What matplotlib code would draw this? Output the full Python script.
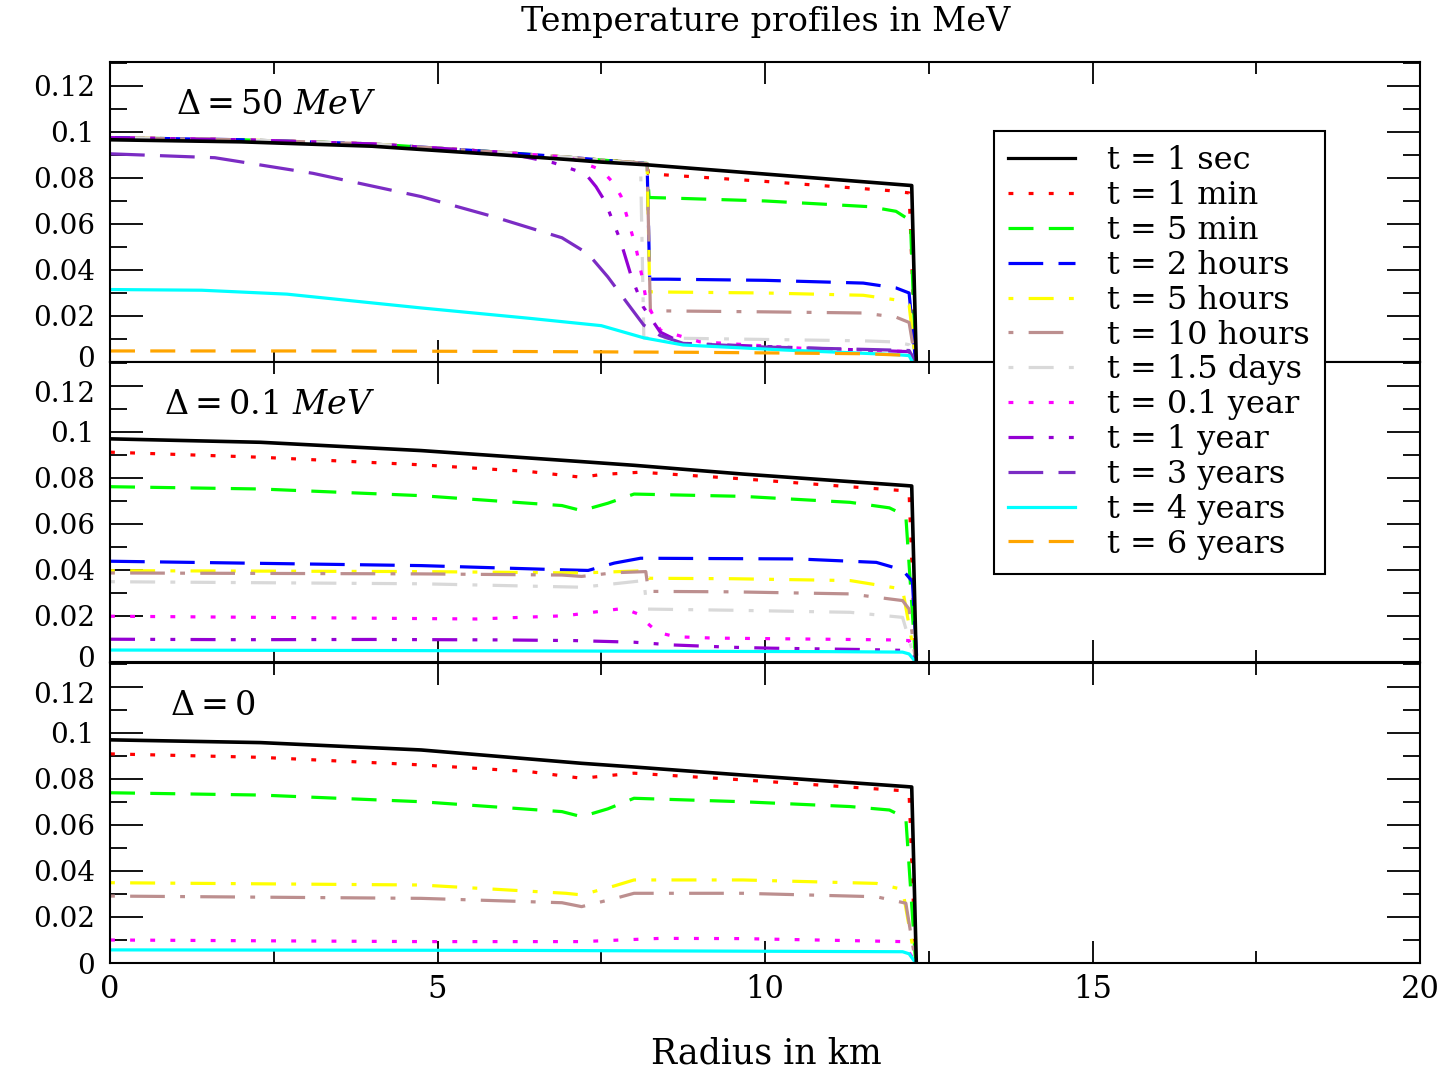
"""
Temperature profiles in MeV for three gap values (Delta = 50 MeV, 0.1 MeV, 0)
"""

import matplotlib.pyplot as plt
from matplotlib.lines import Line2D
from matplotlib.ticker import MultipleLocator
from matplotlib.transforms import ScaledTranslation

plt.rcParams['font.family'] = ['DejaVu Serif']
plt.rcParams['mathtext.fontset'] = 'dejavuserif'
plt.rcParams['lines.scale_dashes'] = False

# ---------------------------------------------------------
# SERIES LABELS / COLOURS / LINE STYLES
# ---------------------------------------------------------
labels = ['t = 1 sec', 't = 1 min', 't = 5 min', 't = 2 hours', 't = 5 hours',
          't = 10 hours', 't = 1.5 days', 't = 0.1 year', 't = 1 year',
          't = 3 years', 't = 4 years', 't = 6 years']
colors = ['black', 'red', '#00ff00', 'blue', '#ffff00', 'rosybrown',
          '#d9d9d9', 'magenta', 'darkviolet', '#7b2cc4', 'cyan', 'orange']
styles = ['-', (0, (3.5, 11)), (0, (18, 11)), (0, (25, 11)), (0, (3.5, 11, 18, 11)),
          (0, (3.5, 11, 25, 11)), (0, (3.5, 11, 18, 11)), (0, (3.5, 11)),
          (0, (18, 11, 3.5, 11, 3.5, 11)), (0, (25, 11)), '-', (0, (18, 11))]

xticks = [0, 5, 10, 15, 20]
yticks = [0, 0.02, 0.04, 0.06, 0.08, 0.10, 0.12]
ytick_labels = ['0', '0.02', '0.04', '0.06', '0.08', '0.1', '0.12']

# ---------------------------------------------------------
# DELTA = 50 MeV
# ---------------------------------------------------------
r50_core = [0, 2, 4, 6, 7, 7.5, 8.2]
T50_core = [0.0975, 0.0966, 0.0948, 0.0911, 0.0890, 0.0878, 0.0863]

r50_1sec = [0, 2, 4, 6, 7, 7.5, 8.2, 10, 12.24, 12.31]
T50_1sec = [0.0966, 0.0957, 0.0938, 0.0900, 0.0880, 0.0869, 0.0857, 0.0817, 0.0767, 0.0]
r50_1min = r50_core + [8.22, 10, 11.9, 12.2, 12.3]
T50_1min = T50_core + [0.0818, 0.0785, 0.0745, 0.0735, 0.0]
r50_5min = r50_core + [8.23, 8.5, 10, 11.6, 12.0, 12.22, 12.3]
T50_5min = T50_core + [0.0715, 0.0713, 0.0700, 0.0675, 0.0655, 0.0615, 0.0]
r50_2h = r50_core + [8.24, 8.5, 10, 11.5, 12.0, 12.2, 12.3]
T50_2h = T50_core + [0.0360, 0.0360, 0.0355, 0.0343, 0.0322, 0.0300, 0.0]
r50_5h = r50_core + [8.24, 8.5, 10, 11.5, 12.0, 12.2, 12.3]
T50_5h = T50_core + [0.0305, 0.0304, 0.0300, 0.0290, 0.0270, 0.0248, 0.0]
r50_10h = r50_core + [8.25, 8.5, 10, 11.5, 12.0, 12.2, 12.3]
T50_10h = T50_core + [0.0222, 0.0222, 0.0218, 0.0213, 0.0195, 0.0172, 0.0]
r50_15d = r50_core[:6] + [8.1, 8.15, 8.5, 10, 11.5, 12.0, 12.2, 12.3]
T50_15d = T50_core[:6] + [0.0860, 0.0105, 0.0104, 0.0098, 0.0092, 0.0087, 0.0075, 0.0]
r50_01y = r50_core[:5] + [7.5, 7.68, 7.8, 7.92, 8.03, 8.12, 8.19, 8.4, 9.0, 10.6, 11.55, 12.2, 12.3]
T50_01y = T50_core[:5] + [0.0835, 0.0780, 0.0722, 0.0606, 0.0496, 0.0375, 0.0262, 0.0139,
                          0.0088, 0.0059, 0.0052, 0.0045, 0.0]
r50_1y = r50_core[:4] + [6.77, 7.26, 7.42, 7.56, 7.79, 7.96, 8.14, 8.4, 8.75, 10.8, 11.8, 12.2, 12.3]
T50_1y = T50_core[:4] + [0.0866, 0.0818, 0.0762, 0.0697, 0.0530, 0.0371, 0.0240, 0.0130,
                         0.0081, 0.0059, 0.0049, 0.0045, 0.0]
r50_3y = [0, 1.6, 3.1, 4.75, 5.85, 6.9, 7.3, 7.6, 7.9, 8.15, 8.4, 8.75, 10, 11.5, 12.2, 12.3]
T50_3y = [0.0905, 0.0888, 0.0820, 0.0719, 0.0632, 0.0540, 0.0470, 0.0370, 0.0255, 0.0160,
          0.0115, 0.0081, 0.0065, 0.0055, 0.0050, 0.0]
r50_4y = [0, 1.4, 2.7, 4.75, 6.4, 7.5, 8.15, 8.75, 10.3, 12.0, 12.2, 12.25]
T50_4y = [0.0315, 0.0312, 0.0295, 0.0235, 0.0190, 0.0158, 0.0105, 0.0074, 0.0052, 0.0032, 0.0028, 0.0]
r50_6y = [0, 3, 6, 9, 11.5, 12.1, 12.3]
T50_6y = [0.0048, 0.0048, 0.0046, 0.0042, 0.0036, 0.0030, 0.0]

# ---------------------------------------------------------
# DELTA = 0.1 MeV (middle panel)
# ---------------------------------------------------------
r01_1sec = [0, 2.3, 4.75, 7.2, 8.0, 9.66, 12.15, 12.24, 12.31]
T01_1sec = [0.0970, 0.0955, 0.0919, 0.0871, 0.0855, 0.0817, 0.0767, 0.0765, 0.0]
r01_1min = [0, 2.3, 4.75, 6.4, 7.2, 7.5, 8.1, 9.66, 12.1, 12.2, 12.3]
T01_1min = [0.0912, 0.0890, 0.0857, 0.0828, 0.0803, 0.0815, 0.0825, 0.0796, 0.0745, 0.0735, 0.0]
r01_5min = [0, 2.3, 4.75, 6.9, 7.2, 7.6, 8.0, 9.66, 11.3, 11.9, 12.15, 12.3]
T01_5min = [0.0762, 0.0752, 0.0723, 0.0680, 0.0658, 0.0690, 0.0730, 0.0720, 0.0694, 0.0670, 0.0635, 0.0]
r01_2h = [0, 4.75, 7.0, 7.3, 7.7, 8.1, 10.5, 11.7, 12.1, 12.25, 12.32]
T01_2h = [0.0438, 0.0419, 0.0400, 0.0398, 0.0430, 0.0451, 0.0448, 0.0433, 0.0400, 0.0350, 0.0]
r01_5h = [0, 4.75, 7.2, 8.18, 8.22, 9.5, 11.3, 12.1, 12.3]
T01_5h = [0.0397, 0.0393, 0.0387, 0.0397, 0.0364, 0.0362, 0.0354, 0.0317, 0.0]
r01_10h = [0, 4.75, 6.9, 7.2, 7.7, 8.18, 8.22, 9.5, 11.3, 12.1, 12.2, 12.3]
T01_10h = [0.0387, 0.0383, 0.0378, 0.0372, 0.0388, 0.0393, 0.0307, 0.0305, 0.0296, 0.0267, 0.0230, 0.0]
r01_15d = [0, 4.75, 7.2, 7.7, 8.15, 8.2, 9.5, 11.3, 12.1, 12.3]
T01_15d = [0.0349, 0.0340, 0.0325, 0.0340, 0.0354, 0.0230, 0.0225, 0.0216, 0.0194, 0.0]
r01_01y = [0, 5.6, 6.95, 7.84, 8.06, 8.2, 8.36, 8.63, 9.2, 11.96, 12.2, 12.3]
T01_01y = [0.0199, 0.0187, 0.0201, 0.0233, 0.0209, 0.0170, 0.0129, 0.0110, 0.0104, 0.0096, 0.0093, 0.0]
r01_1y = [0, 2, 4, 6, 7.1, 8.0, 8.6, 9.5, 10.1, 11.55, 12.2, 12.3]
T01_1y = [0.0099, 0.0097, 0.0098, 0.0096, 0.0093, 0.0086, 0.0074, 0.0064, 0.0060, 0.0054, 0.0050, 0.0]
r01_4y = [0, 4, 8, 11, 12.1, 12.2, 12.3]
T01_4y = [0.0052, 0.0050, 0.0047, 0.0045, 0.0043, 0.0035, 0.0]

# ---------------------------------------------------------
# DELTA = 0 (bottom panel)
# ---------------------------------------------------------
r0_1sec = [0, 2.3, 4.75, 7.2, 8.0, 9.66, 12.15, 12.24, 12.31]
T0_1sec = [0.0970, 0.0958, 0.0926, 0.0868, 0.0852, 0.0817, 0.0767, 0.0765, 0.0]
r0_1min = [0, 2.3, 4.75, 6.4, 7.2, 7.7, 8.0, 9.66, 12.1, 12.2, 12.3]
T0_1min = [0.0909, 0.0894, 0.0861, 0.0832, 0.0803, 0.0817, 0.0825, 0.0796, 0.0749, 0.0735, 0.0]
r0_5min = [0, 2.3, 4.75, 6.9, 7.2, 7.6, 8.0, 9.66, 11.3, 11.9, 12.15, 12.3]
T0_5min = [0.0740, 0.0730, 0.0701, 0.0658, 0.0636, 0.0670, 0.0716, 0.0701, 0.0680, 0.0665, 0.0630, 0.0]
r0_5h = [0, 4.75, 6.96, 7.2, 7.7, 8.0, 9.66, 11.7, 12.1, 12.3]
T0_5h = [0.0349, 0.0339, 0.0303, 0.0296, 0.0335, 0.0361, 0.0361, 0.0346, 0.0320, 0.0]
r0_10h = [0, 4.75, 6.9, 7.2, 7.7, 8.0, 9.66, 11.7, 12.15, 12.3]
T0_10h = [0.0291, 0.0281, 0.0262, 0.0245, 0.0280, 0.0303, 0.0303, 0.0288, 0.0260, 0.0]
r0_01y = [0, 4.75, 7.2, 8.4, 9.66, 12.1, 12.3]
T0_01y = [0.0100, 0.0093, 0.0093, 0.0107, 0.0106, 0.0093, 0.0]
r0_4y = [0, 6, 12.1, 12.2, 12.3]
T0_4y = [0.0057, 0.0055, 0.0049, 0.0040, 0.0]

# (series index, r, T) for each panel
panel_50 = [(0, r50_1sec, T50_1sec), (1, r50_1min, T50_1min), (2, r50_5min, T50_5min),
            (3, r50_2h, T50_2h), (4, r50_5h, T50_5h), (5, r50_10h, T50_10h),
            (6, r50_15d, T50_15d), (7, r50_01y, T50_01y), (8, r50_1y, T50_1y),
            (9, r50_3y, T50_3y), (10, r50_4y, T50_4y), (11, r50_6y, T50_6y)]
panel_01 = [(0, r01_1sec, T01_1sec), (1, r01_1min, T01_1min), (2, r01_5min, T01_5min),
            (3, r01_2h, T01_2h), (4, r01_5h, T01_5h), (5, r01_10h, T01_10h),
            (6, r01_15d, T01_15d), (7, r01_01y, T01_01y), (8, r01_1y, T01_1y),
            (10, r01_4y, T01_4y)]
panel_0 = [(0, r0_1sec, T0_1sec), (1, r0_1min, T0_1min), (2, r0_5min, T0_5min),
           (4, r0_5h, T0_5h), (5, r0_10h, T0_10h), (7, r0_01y, T0_01y),
           (10, r0_4y, T0_4y)]

panels = [(panel_50, r'$\Delta = 50\ MeV$', 1.0), (panel_01, r'$\Delta = 0.1\ MeV$', 0.82),
          (panel_0, r'$\Delta = 0$', 0.92)]

# ---------------------------------------------------------
# FIGURE
# ---------------------------------------------------------
W, H = 1452, 1069
fig = plt.figure(figsize=(W / 100, H / 100), dpi=100)
left, right = 110 / W, 1420 / W
tops = [62, 362, 663]
ph = 300 / H

for i, (series, note, note_x) in enumerate(panels):
    ax = fig.add_axes([left, 1 - (tops[i] + 300) / H, right - left, ph])
    for idx, r, T in series:
        lw = 2.6 if idx == 0 else 2.3
        ax.plot(r, T, color=colors[idx], linestyle=styles[idx], lw=lw,
                zorder=3 if idx == 0 else 2)
    ax.set_xlim(0, 20)
    ax.set_ylim(0, 0.1304)
    ax.set_yticks(yticks)
    ax.set_yticklabels(ytick_labels)
    ax.yaxis.set_minor_locator(MultipleLocator(0.01))
    ax.set_xticks(xticks)
    ax.xaxis.set_minor_locator(MultipleLocator(2.5))
    ax.tick_params(axis='y', which='major', direction='in', length=24, width=1.3,
                   left=True, right=True, labelsize=20, pad=11)
    ax.tick_params(axis='y', which='minor', direction='in', length=12, width=1.3,
                   left=True, right=True)
    ax.tick_params(axis='x', which='major', direction='in', length=16, width=1.3,
                   top=True, bottom=True, labelsize=22, pad=8)
    ax.tick_params(axis='x', which='minor', direction='in', length=8.5, width=1.3,
                   top=True, bottom=True)
    if i < 2:
        ax.tick_params(axis='x', labelbottom=False)
    for sp in ax.spines.values():
        sp.set_linewidth(1.5)

    # "0" of an upper panel and "0.12" of the panel below sit right next to each other
    yt = ax.yaxis.get_major_ticks()
    if i < 2:
        lab = yt[0].label1
        lab.set_transform(lab.get_transform() + ScaledTranslation(0, 4 / 72, fig.dpi_scale_trans))
    if i > 0:
        lab = yt[-1].label1
        lab.set_transform(lab.get_transform() + ScaledTranslation(0, -4 / 72, fig.dpi_scale_trans))

    ax.text(note_x, 0.1117, note, fontsize=24, va='center', ha='left')

handles = [Line2D([], [], color=c, linestyle=s, lw=2.3) for c, s in zip(colors, styles)]
leg = fig.legend(handles, labels, loc='upper left', bbox_to_anchor=(994 / W, 1 - 131 / H),
                 fontsize=23, frameon=True, fancybox=False, framealpha=1, edgecolor='black',
                 borderaxespad=0, handlelength=2.07, handletextpad=1.03, labelspacing=0.12,
                 borderpad=0.45)
leg.get_frame().set_linewidth(1.5)

fig.text(766 / W, 1 - 22 / H, 'Temperature profiles in MeV', fontsize=24, ha='center', va='center')
fig.text(766 / W, 1 - 1053 / H, 'Radius in km', fontsize=25, ha='center', va='center')

fig.savefig('out.png', dpi=100)
